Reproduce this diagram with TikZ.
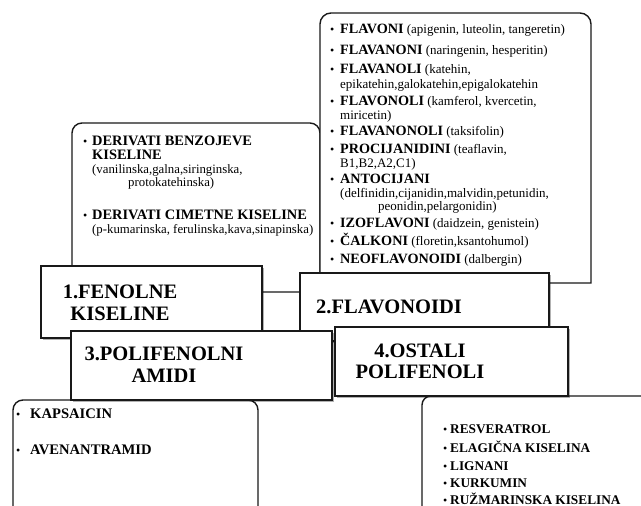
\documentclass[tikz,border=0pt]{standalone}
\usepackage{fontspec}
\setmainfont{Liberation Serif}
\usetikzlibrary{shadows}
\newcommand{\bul}[1][10pt]{\makebox[#1][l]{\fontsize{12}{14}\selectfont•}}
\newcommand{\hb}[2][14.2]{{\fontsize{#1}{16}\selectfont\bfseries #2}}
\tikzset{
  frame/.style={draw=black!90, line width=1.4pt, fill=white},
  lblbox/.style={frame, rectangle, inner sep=0pt, outer sep=0pt, anchor=north west,
    line width=1.5pt,
    drop shadow={shadow xshift=1.5pt, shadow yshift=-1.5pt, opacity=0.3, fill=black}},
  ln/.style={inner sep=0pt, anchor=base west, font=\fontsize{13}{15}\selectfont},
  lnA/.style={ln, font=\fontsize{12.8}{15}\selectfont},
  hd/.style={inner sep=0pt, anchor=base, font=\fontsize{20.5}{22}\selectfont\bfseries},
}
\begin{document}
\begin{tikzpicture}[x=1pt, y=-1pt]
\useasboundingbox (0,0) rectangle (641,506);
\clip (0,0) rectangle (641,506);
% list box A (fenolne kiseline)
\draw[frame, rounded corners=10pt] (72,292) -- (72,123) -- (320,123) -- (320,292) -- cycle;
% list box B (flavonoidi)
\draw[frame] (591,150) -- (591,283) -- (320,283) [rounded corners=11pt] -- (320,13) -- (591,13) -- cycle;
% list box C (amidi)
\draw[frame, rounded corners=10pt] (13,540) -- (13,400) -- (258,400) -- (258,540) -- cycle;
% list box D (ostali)
\draw[frame, rounded corners=9pt] (422,540) -- (422,396) -- (670,396) -- (670,540) -- cycle;

% texts of box A
\node[lnA] (a1) at (83,145) {\bul[9pt]\hb[14.4]{DERIVATI BENZOJEVE}};
\node[lnA] (a2) at (92,159) {\hb[14.4]{KISELINE}};
\node[lnA] (a3) at (92,173) {(vanilinska,galna,siringinska,};
\node[lnA] (a4) at (128,186) {protokatehinska)};
\node[lnA] (a5) at (83,219) {\bul[9pt]\hb[14.4]{DERIVATI CIMETNE KISELINE}};
\node[lnA] (a6) at (92,233) {(p-kumarinska, ferulinska,kava,sinapinska)};

% texts of box B
\node[ln] (f1) at (330,34) {\bul\hb{FLAVONI} (apigenin, luteolin, tangeretin)};
\node[ln] (f2) at (330,54) {\bul\hb{FLAVANONI} (naringenin, hesperitin)};
\node[ln] (f3) at (330,74) {\bul\hb{FLAVANOLI} (katehin,};
\node[ln] (f3b) at (340,88) {epikatehin,galokatehin,epigalokatehin};
\node[ln] (f4) at (330,105) {\bul\hb{FLAVONOLI} (kamferol, kvercetin,};
\node[ln] (f4b) at (340,119) {miricetin)};
\node[ln] (f5) at (330,135) {\bul\hb{FLAVANONOLI} (taksifolin)};
\node[ln] (f6) at (330,153) {\bul\hb{PROCIJANIDINI} (teaflavin,};
\node[ln] (f6b) at (340,167) {B1,B2,A2,C1)};
\node[ln] (f7) at (330,183) {\bul\hb{ANTOCIJANI}};
\node[ln] (f7b) at (340,197) {(delfinidin,cijanidin,malvidin,petunidin,};
\node[ln] (f7c) at (378,210) {peonidin,pelargonidin)};
\node[ln] (f8) at (330,227) {\bul\hb{IZOFLAVONI} (daidzein, genistein)};
\node[ln] (f9) at (330,245) {\bul\hb{ČALKONI} (floretin,ksantohumol)};
\node[ln] (f10) at (330,263) {\bul\hb{NEOFLAVONOIDI} (dalbergin)};

% texts of box C
\node[ln] (c1) at (16,418) {\bul[14pt]\hb[14.6]{KAPSAICIN}};
\node[ln] (c2) at (16,454) {\bul[14pt]\hb[14.6]{AVENANTRAMID}};

% texts of box D
\node[ln] (d1) at (443,433) {\bul[7pt]\hb[13.3]{RESVERATROL}};
\node[ln] (d2) at (443,452) {\bul[7pt]\hb[13.3]{ELAGIČNA KISELINA}};
\node[ln] (d3) at (443,470) {\bul[7pt]\hb[13.3]{LIGNANI}};
\node[ln] (d4) at (443,487) {\bul[7pt]\hb[13.3]{KURKUMIN}};
\node[ln] (d5) at (443,504) {\bul[7pt]\hb[13.3]{RUŽMARINSKA KISELINA}};

% label boxes
\node[lblbox, minimum width=221pt, minimum height=72pt] (k1) at (41,266) {};
\node[hd] (k1a) at (120,298) {1.FENOLNE};
\node[hd] (k1b) at (120,320) {KISELINE};

\node[lblbox, minimum width=249pt, minimum height=68pt] (k2) at (300,273) {};
\node[hd] (k2a) at (389,313) {2.FLAVONOIDI};

\node[lblbox, minimum width=261pt, minimum height=69pt] (k3) at (71,331) {};
\node[hd] (k3a) at (164,360) {3.POLIFENOLNI};
\node[hd] (k3b) at (164,382) {AMIDI};

\node[lblbox, minimum width=233pt, minimum height=69pt] (k4) at (335,327) {};
\node[hd] (k4a) at (420,357) {4.OSTALI};
\node[hd] (k4b) at (420,378) {POLIFENOLI};
\end{tikzpicture}
\end{document}
